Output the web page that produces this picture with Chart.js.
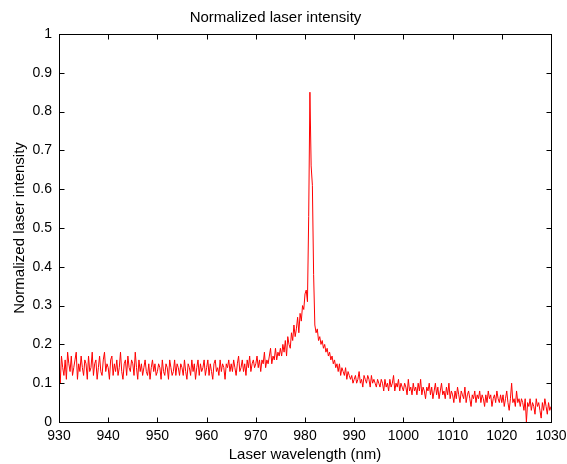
<!DOCTYPE html>
<html><head><meta charset="utf-8">
<script src="https://cdn.jsdelivr.net/npm/chart.js@4/dist/chart.umd.min.js"></script>
<style>html,body{margin:0;padding:0;background:#fff}</style>
</head><body>
<canvas id="c" width="567" height="464" style="width:567px;height:464px;display:block"></canvas>
<script>
const chartTitle = 'Normalized laser intensity';
const xTitle = 'Laser wavelength (nm)';
const yTitle = 'Normalized laser intensity';
const wavelengthStart = 930;
const wavelengthStep = 0.25;
const intensity = [
0.16,0.10,0.17,0.14,0.12,0.16,0.11,0.18,0.15,0.13,0.17,0.12,0.14,0.16,0.18,0.11,0.15,0.13,0.17,0.14,
0.12,0.16,0.15,0.11,0.17,0.13,0.14,0.18,0.12,0.15,0.16,0.11,0.14,0.17,0.13,0.12,0.16,0.18,0.13,0.15,
0.14,0.11,0.16,0.17,0.12,0.15,0.13,0.16,0.12,0.14,0.18,0.13,0.11,0.15,0.16,0.12,0.17,0.14,0.13,0.16,
0.15,0.12,0.18,0.14,0.11,0.16,0.13,0.15,0.12,0.14,0.16,0.13,0.12,0.15,0.11,0.14,0.16,0.13,0.15,0.12,
0.13,0.15,0.14,0.11,0.16,0.13,0.12,0.15,0.14,0.11,0.16,0.14,0.12,0.13,0.16,0.12,0.15,0.14,0.12,0.15,
0.14,0.12,0.16,0.13,0.11,0.15,0.14,0.12,0.16,0.13,0.15,0.11,0.14,0.16,0.12,0.15,0.13,0.14,0.16,0.12,
0.14,0.16,0.12,0.15,0.13,0.11,0.15,0.16,0.13,0.14,0.12,0.16,0.13,0.15,0.14,0.11,0.15,0.14,0.16,0.13,
0.15,0.13,0.16,0.14,0.12,0.15,0.17,0.13,0.14,0.16,0.13,0.15,0.12,0.16,0.14,0.17,0.13,0.15,0.16,0.14,
0.15,0.17,0.14,0.16,0.13,0.16,0.15,0.18,0.14,0.16,0.15,0.17,0.19,0.15,0.17,0.16,0.19,0.16,0.18,0.17,
0.19,0.17,0.20,0.18,0.21,0.17,0.22,0.20,0.19,0.23,0.21,0.25,0.22,0.24,0.27,0.23,0.28,0.26,0.30,0.29,
0.33,0.34,0.31,0.53,0.85,0.66,0.61,0.38,0.25,0.23,0.24,0.21,0.22,0.20,0.21,0.19,0.20,0.18,0.19,0.17,
0.18,0.16,0.17,0.15,0.16,0.14,0.15,0.13,0.15,0.12,0.14,0.13,0.12,0.14,0.11,0.13,0.12,0.11,0.12,0.10,
0.11,0.12,0.10,0.11,0.13,0.10,0.11,0.09,0.12,0.11,0.10,0.12,0.11,0.09,0.12,0.10,0.11,0.10,0.09,0.11,
0.10,0.09,0.11,0.10,0.08,0.11,0.09,0.10,0.08,0.11,0.09,0.10,0.12,0.08,0.10,0.09,0.11,0.08,0.10,0.09,
0.08,0.10,0.09,0.07,0.11,0.08,0.09,0.07,0.10,0.08,0.09,0.07,0.10,0.08,0.11,0.07,0.09,0.08,0.06,0.09,
0.08,0.10,0.07,0.09,0.06,0.08,0.10,0.07,0.09,0.06,0.08,0.10,0.07,0.08,0.06,0.09,0.07,0.10,0.06,0.08,
0.07,0.05,0.08,0.06,0.09,0.07,0.05,0.08,0.07,0.06,0.09,0.05,0.07,0.08,0.06,0.04,0.07,0.06,0.08,0.05,
0.07,0.06,0.08,0.05,0.07,0.06,0.04,0.07,0.05,0.08,0.06,0.07,0.04,0.06,0.07,0.05,0.08,0.06,0.05,0.07,
0.05,0.07,0.04,0.06,0.08,0.05,0.03,0.06,0.10,0.05,0.06,0.04,0.08,0.05,0.06,0.04,0.06,0.05,0.03,0.06,
0.00,0.05,0.04,0.06,0.03,0.05,0.04,0.02,0.06,0.04,0.05,0.03,0.01,0.05,0.03,0.06,0.04,0.02,0.05,0.03,
0.04
];
const xTicks = [930,940,950,960,970,980,990,1000,1010,1020,1030];
const yTicks = [0,0.1,0.2,0.3,0.4,0.5,0.6,0.7,0.8,0.9,1];

const FONT = 'Liberation Sans, Arial, Helvetica, sans-serif';
const points = intensity.map((v, i) => ({x: wavelengthStart + i * wavelengthStep, y: v}));

const matlabFrame = {
  id: 'matlabFrame',
  afterDatasetsDraw(chart) {
    const {ctx, chartArea: a, scales: {x, y}} = chart;
    const L = Math.round(a.left) + 0.5, R = Math.round(a.right) + 0.5;
    const T = Math.round(a.top) + 0.5, B = Math.round(a.bottom) + 0.5;
    const len = 5;
    ctx.save();
    ctx.strokeStyle = '#000';
    ctx.lineWidth = 1;
    ctx.beginPath();
    xTicks.forEach(v => {
      const px = Math.round(x.getPixelForValue(v)) + 0.5;
      ctx.moveTo(px, B); ctx.lineTo(px, B - len);
      ctx.moveTo(px, T); ctx.lineTo(px, T + len);
    });
    yTicks.forEach(v => {
      const py = Math.round(y.getPixelForValue(v)) + 0.5;
      ctx.moveTo(L, py); ctx.lineTo(L + len, py);
      ctx.moveTo(R, py); ctx.lineTo(R - len, py);
    });
    ctx.stroke();
    ctx.strokeRect(L, T, R - L, B - T);
    ctx.restore();
  }
};

new Chart(document.getElementById('c'), {
  type: 'line',
  data: { datasets: [{
    data: points,
    borderColor: 'rgb(255,0,0)',
    borderWidth: 1,
    pointRadius: 0,
    tension: 0,
    fill: false
  }]},
  options: {
    responsive: false,
    animation: false,
    devicePixelRatio: 1,
    layout: { padding: { left: 0, right: 16, top: 0, bottom: 0 } },
    plugins: {
      legend: { display: false },
      tooltip: { enabled: false },
      title: { display: true, text: chartTitle, color: '#000',
        font: { family: FONT, size: 15, weight: 'normal' }, padding: { top: 9, bottom: 7 } }
    },
    scales: {
      x: {
        type: 'linear', min: 930, max: 1030,
        afterBuildTicks: s => { s.ticks = xTicks.map(v => ({value: v})); },
        afterFit: s => { s.height = 42; s.paddingLeft = 0; s.paddingRight = 0; },
        grid: { display: false, drawTicks: false },
        border: { display: false },
        ticks: { color: '#000', font: { family: FONT, size: 14 }, padding: 6, maxRotation: 0, autoSkip: false,
          callback: v => String(v) },
        title: { display: true, text: xTitle, color: '#000', font: { family: FONT, size: 15 }, padding: { top: 0, bottom: 0 } }
      },
      y: {
        min: 0, max: 1,
        afterBuildTicks: s => { s.ticks = yTicks.map(v => ({value: v})); },
        afterFit: s => { s.width = 59; s.paddingTop = 0; s.paddingBottom = 0; },
        grid: { display: false, drawTicks: false },
        border: { display: false },
        ticks: { color: '#000', font: { family: FONT, size: 14 }, padding: 7, autoSkip: false,
          callback: v => String(v) },
        title: { display: true, text: yTitle, color: '#000', font: { family: FONT, size: 15 }, padding: { top: 11, bottom: 0 } }
      }
    }
  },
  plugins: [matlabFrame]
});
</script>
</body></html>
